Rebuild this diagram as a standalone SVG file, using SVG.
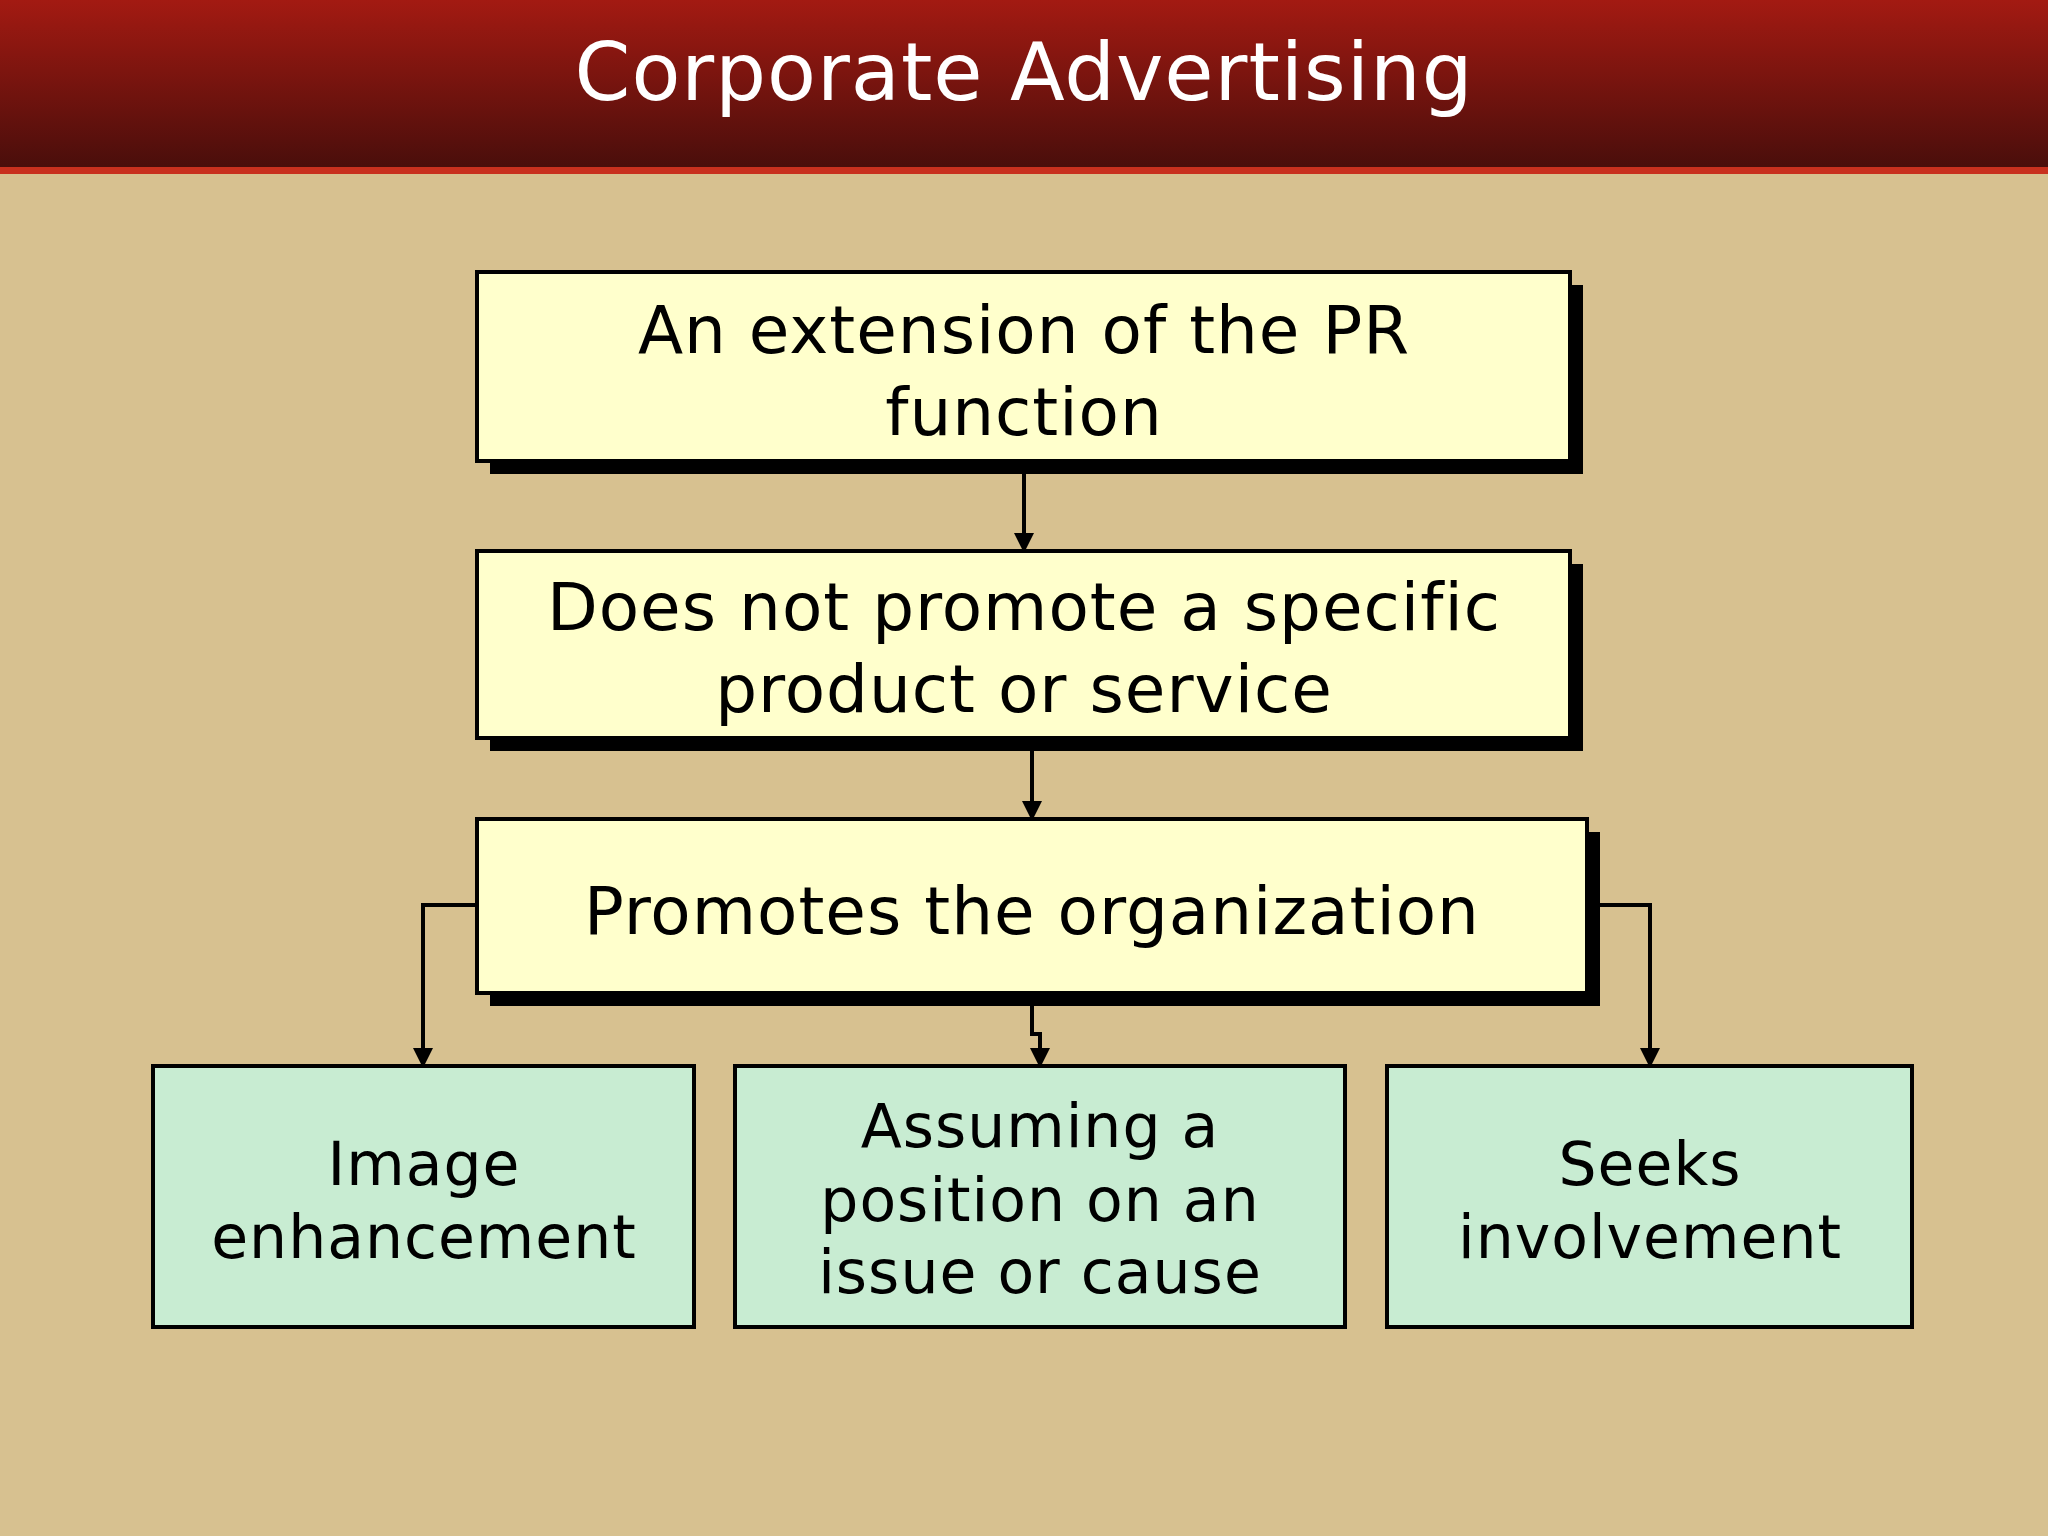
<svg xmlns="http://www.w3.org/2000/svg" width="2048" height="1536" viewBox="0 0 2048 1536">
<defs>
<linearGradient id="hg" x1="0" y1="0" x2="0" y2="1"><stop offset="0" stop-color="#a31a12"/><stop offset="1" stop-color="#4a0e0b"/></linearGradient>
<marker id="ah" viewBox="0 0 10 10" refX="9" refY="5" markerWidth="5" markerHeight="5" orient="auto"><path d="M0,0L10,5L0,10z" fill="#000"/></marker>
</defs>
<style>
.t{font-family:"DejaVu Sans",Verdana,sans-serif;text-anchor:middle;fill:#000;letter-spacing:1px}
.y{fill:#ffffcc;stroke:#000;stroke-width:4}
.g{fill:#c8ecd2;stroke:#000;stroke-width:4}
.c{fill:none;stroke:#000;stroke-width:4;marker-end:url(#ah)}
</style>
<rect width="2048" height="1536" fill="#d7c190"/>
<rect width="2048" height="167" fill="url(#hg)"/>
<rect y="167" width="2048" height="7" fill="#c8301e"/>
<text x="1024" y="100" class="t" style="fill:#fff;font-size:80px">Corporate Advertising</text>
<g id="connectors">
<path class="c" d="M1024,463V551"/>
<path class="c" d="M1032,740V819"/>
<path class="c" d="M477,905H423V1066"/>
<path class="c" d="M1587,905H1650V1066"/>
<path class="c" d="M1032,1006V1034H1040V1066"/>
</g>
<g id="n1"><rect x="490" y="285" width="1093" height="189" fill="#000"/><rect class="y" x="477" y="272" width="1093" height="189"/>
<text class="t" x="1024" y="353" font-size="66">An extension of the PR</text><text class="t" x="1024" y="435" font-size="66">function</text></g>
<g id="n2"><rect x="490" y="564" width="1093" height="187" fill="#000"/><rect class="y" x="477" y="551" width="1093" height="187"/>
<text class="t" x="1024" y="630" font-size="66">Does not promote a specific</text><text class="t" x="1024" y="712" font-size="66">product or service</text></g>
<g id="n3"><rect x="490" y="832" width="1110" height="174" fill="#000"/><rect class="y" x="477" y="819" width="1110" height="174"/>
<text class="t" x="1032" y="934" font-size="66">Promotes the organization</text></g>
<g id="n4"><rect class="g" x="153" y="1066" width="541" height="261"/>
<text class="t" x="424" y="1185" font-size="60">Image</text><text class="t" x="424" y="1258" font-size="60">enhancement</text></g>
<g id="n5"><rect class="g" x="735" y="1066" width="610" height="261"/>
<text class="t" x="1040" y="1147" font-size="60">Assuming a</text><text class="t" x="1040" y="1221" font-size="60">position on an</text><text class="t" x="1040" y="1293" font-size="60">issue or cause</text></g>
<g id="n6"><rect class="g" x="1387" y="1066" width="525" height="261"/>
<text class="t" x="1650" y="1185" font-size="60">Seeks</text><text class="t" x="1650" y="1258" font-size="60">involvement</text></g>
</svg>
